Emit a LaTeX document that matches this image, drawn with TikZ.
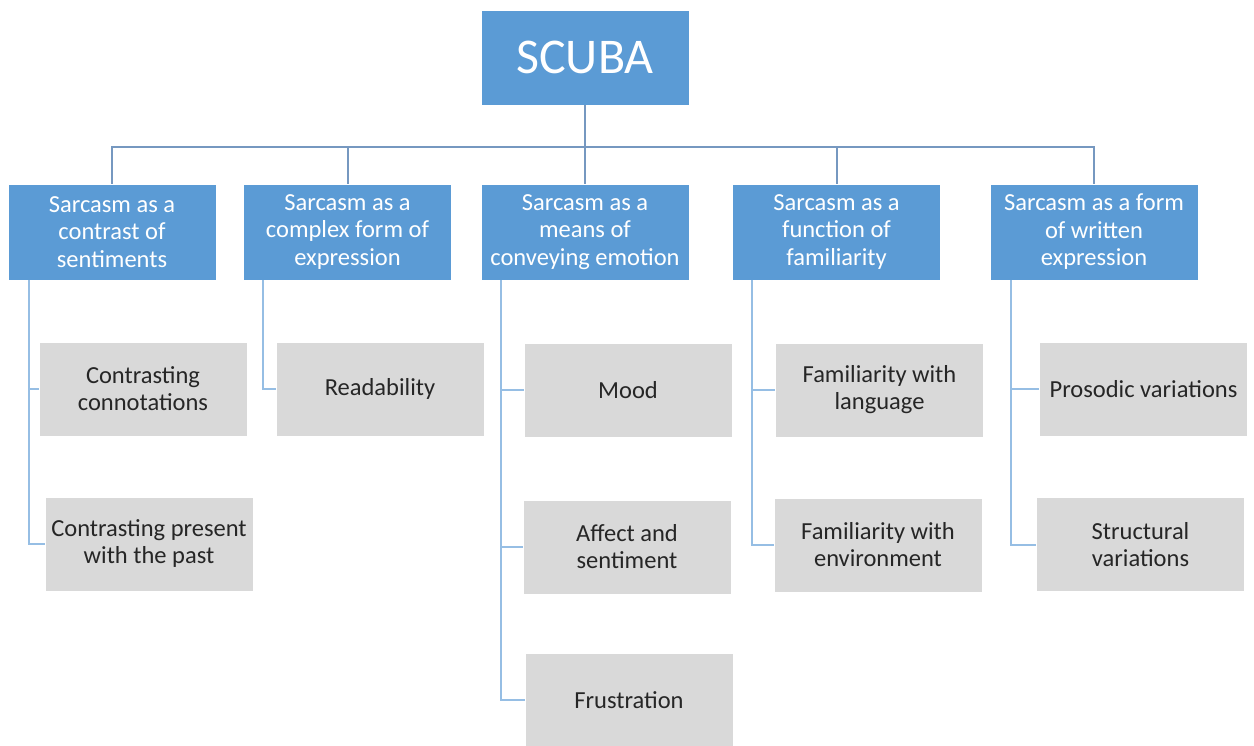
\documentclass[tikz,border=0pt]{standalone}
\usepackage{fontspec}
\setmainfont{Carlito}
\definecolor{boxblue}{HTML}{5B9BD5}
\definecolor{boxgray}{HTML}{D9D9D9}
\definecolor{txtdark}{HTML}{262626}
\definecolor{topln}{RGB}{118,152,192}
\definecolor{leafln}{RGB}{150,190,228}
\begin{document}
\begin{tikzpicture}[x=1pt,y=-1pt,
  topbox/.style={draw=white,line width=0.8pt,fill=boxblue,text=white,minimum width=208pt,minimum height=95pt,inner sep=0pt,align=center,font=\fontsize{50}{55}\selectfont},
  catbox/.style={draw=white,line width=0.8pt,fill=boxblue,text=white,minimum width=208pt,minimum height=96pt,inner sep=0pt,align=center,font=\fontsize{24.5}{27.5}\selectfont},
  leafbox/.style={draw=white,line width=0.8pt,fill=boxgray,text=txtdark,minimum width=208pt,minimum height=94pt,inner sep=0pt,align=center,font=\fontsize{24.5}{27}\selectfont},
  topline/.style={draw=topln,line width=2pt},
  leafline/.style={draw=leafln,line width=2pt}]
\useasboundingbox (0,0) rectangle (1254,746);
\node[topbox] (scuba) at (585,57.5) {SCUBA};
\node[catbox] (c1) at (112,232) {Sarcasm as a\\contrast of\\sentiments};
\node[catbox] (c2) at (347.5,232) {Sarcasm as a\\complex form of\\expression};
\node[catbox] (c3) at (585,232) {Sarcasm as a\\means of\\conveying emotion};
\node[catbox] (c4) at (836.5,232) {Sarcasm as a\\function of\\familiarity};
\node[catbox] (c5) at (1094,232) {Sarcasm as a form\\of written\\expression};
\node[leafbox] (l11) at (143,389) {Contrasting\\connotations};
\node[leafbox] (l12) at (149,544) {Contrasting present\\with the past};
\node[leafbox] (l21) at (380,389) {Readability};
\node[leafbox] (l31) at (628,390) {Mood};
\node[leafbox] (l32) at (627,547) {Affect and\\sentiment};
\node[leafbox] (l33) at (629,700) {Frustration};
\node[leafbox] (l41) at (879.5,390) {Familiarity with\\language};
\node[leafbox] (l42) at (878,545) {Familiarity with\\environment};
\node[leafbox] (l51) at (1143.5,389) {Prosodic variations};
\node[leafbox] (l52) at (1140.5,544.5) {Structural\\variations};
\coordinate (bus) at (585,147);
\draw[topline] (scuba.south) -- (bus) -| (c1.north);
\draw[topline] (bus) -| (c2.north);
\draw[topline] (bus) -- (c3.north);
\draw[topline] (bus) -| (c4.north);
\draw[topline] (bus) -| (c5.north);
\draw[leafline] ([xshift=21pt]c1.south west) |- (l11.west);
\draw[leafline] ([xshift=21pt]c1.south west) |- (l12.west);
\draw[leafline] ([xshift=20pt]c2.south west) |- (l21.west);
\draw[leafline] ([xshift=20pt]c3.south west) |- (l31.west);
\draw[leafline] ([xshift=20pt]c3.south west) |- (l32.west);
\draw[leafline] ([xshift=20pt]c3.south west) |- (l33.west);
\draw[leafline] ([xshift=20pt]c4.south west) |- (l41.west);
\draw[leafline] ([xshift=20pt]c4.south west) |- (l42.west);
\draw[leafline] ([xshift=21pt]c5.south west) |- (l51.west);
\draw[leafline] ([xshift=21pt]c5.south west) |- (l52.west);
\end{tikzpicture}
\end{document}
